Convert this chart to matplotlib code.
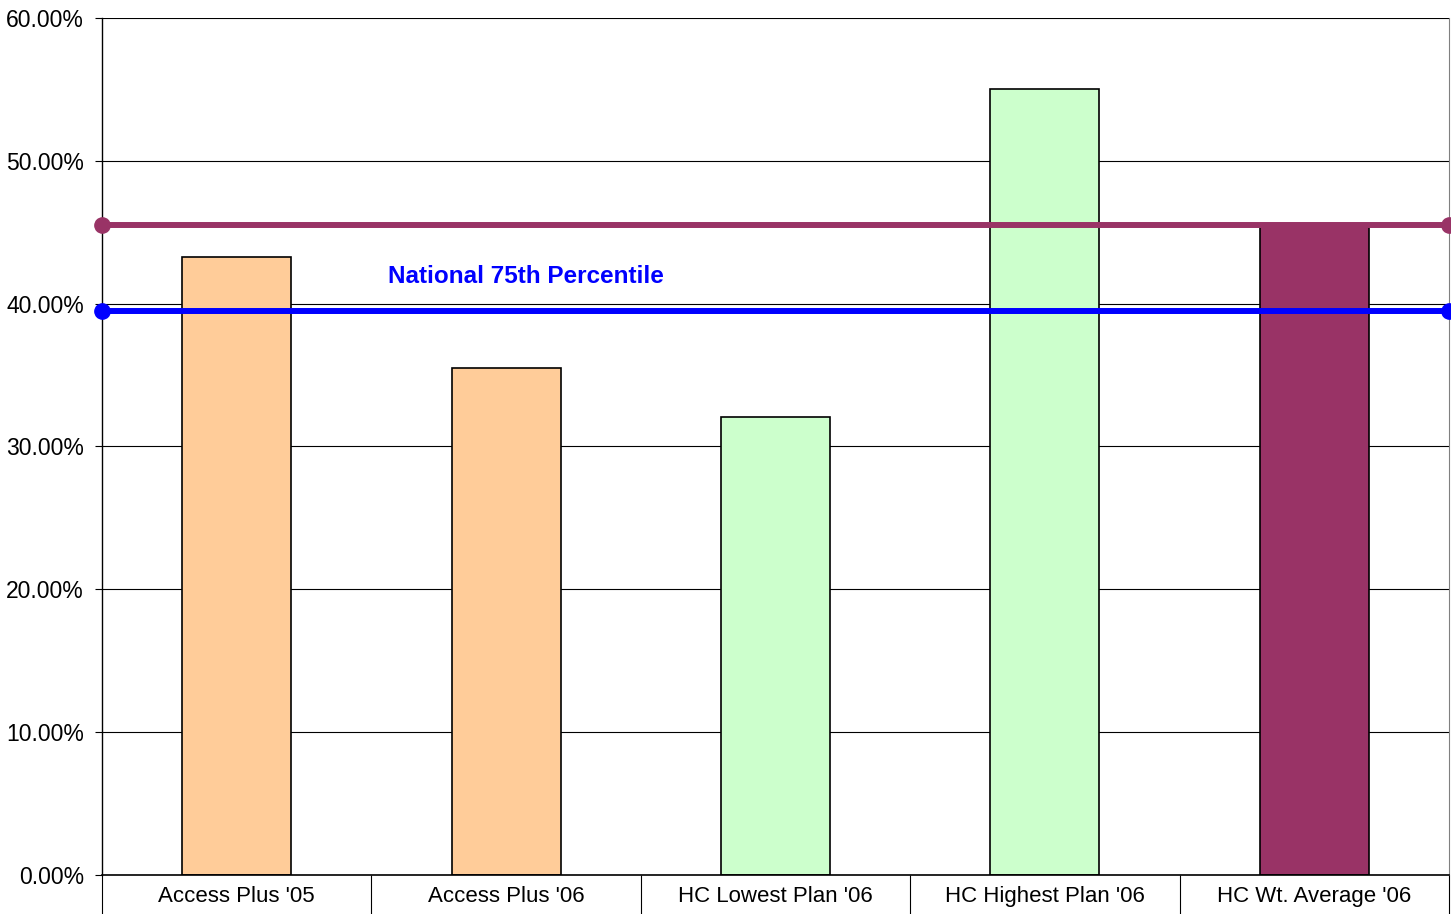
import matplotlib.pyplot as plt
from matplotlib.ticker import FixedLocator, PercentFormatter

plt.rcParams["font.family"] = ["Liberation Sans", "DejaVu Sans"]

categories = ["Access Plus '05", "Access Plus '06", "HC Lowest Plan '06",
              "HC Highest Plan '06", "HC Wt. Average '06"]
values = [43.3, 35.5, 32.1, 55.0, 45.5]
bar_colors = ["#FFCC99", "#FFCC99", "#CCFFCC", "#CCFFCC", "#993366"]
hc_average = 45.5
national_75th = 39.5

fig = plt.figure(figsize=(14.51, 9.14), dpi=100)
ax = fig.add_axes([102 / 1451, 39 / 914, 1347 / 1451, 857 / 914])

x = range(len(categories))
ax.bar(x, values, width=0.405, color=bar_colors, edgecolor="black",
       linewidth=1.2, zorder=2)

xs = [-0.5, len(categories) - 0.5]
ax.plot(xs, [hc_average] * 2, color="#993366", lw=4.3, marker="o",
        markersize=11, zorder=3, clip_on=False)
ax.plot(xs, [national_75th] * 2, color="#0000FF", lw=4.3, marker="o",
        markersize=11, zorder=4, clip_on=False)
ax.text(0.56, 41.9, "National 75th Percentile", color="#0000FF",
        fontsize=17.5, fontweight="bold", va="center", ha="left")

ax.set_xlim(-0.5, len(categories) - 0.5)
ax.set_ylim(0, 60)
ax.set_yticks(range(0, 61, 10))
ax.yaxis.set_major_formatter(PercentFormatter(decimals=2))
ax.yaxis.grid(True, color="black", lw=0.8, zorder=0)
ax.set_axisbelow(True)

ax.set_xticks(list(x))
ax.set_xticklabels(categories)
ax.xaxis.set_minor_locator(FixedLocator([-0.5, 0.5, 1.5, 2.5, 3.5, 4.5]))
ax.tick_params(axis="x", which="major", length=0, pad=8, labelsize=16)
ax.tick_params(axis="x", which="minor", length=28, width=0.8, direction="out")
ax.tick_params(axis="y", length=5, width=0.8, labelsize=16.5, pad=8)

ax.spines["top"].set_visible(False)
ax.spines["right"].set_color("#808080")
ax.spines["left"].set_linewidth(1.0)
ax.spines["bottom"].set_linewidth(1.2)

fig.savefig("out.png", dpi=100)
